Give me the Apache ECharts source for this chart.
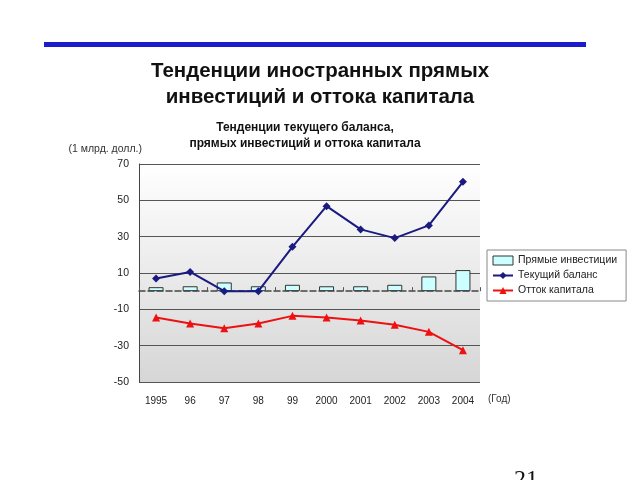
<!DOCTYPE html>
<html><head><meta charset="utf-8">
<script src="https://cdn.jsdelivr.net/npm/echarts@6/dist/echarts.min.js"></script>
<style>html,body{margin:0;padding:0;background:#fff}#c{width:640px;height:480px}</style>
</head><body><div id="c"></div>
<script>
const categories = ['1995','96','97','98','99','2000','2001','2002','2003','2004'];
const fdi = [2.2, 2.7, 4.8, 2.7, 3.5, 2.7, 2.7, 3.5, 8.1, 11.6];
const currentBalance = [7.0, 10.6, 0.0, 0.0, 24.4, 46.8, 34.0, 29.2, 36.2, 60.2];
const capitalOutflow = [-14.5, -17.8, -20.4, -17.8, -13.6, -14.5, -16.1, -18.5, -22.4, -32.5];
const seriesNames = ['Прямые инвестиции', 'Текущий баланс', 'Отток капитала'];

const chart = echarts.init(document.getElementById('c'), null, {renderer:'canvas'});
const font = 'Arial, "Liberation Sans", sans-serif';
chart.setOption({
  animation:false,
  backgroundColor:'#fff',
  textStyle:{fontFamily:font},
  title:[
    {text:'Тенденции иностранных прямых\nинвестиций и оттока капитала', left:'center', top:53,
     textStyle:{fontSize:20.5, fontWeight:'bold', color:'#111', lineHeight:26, fontFamily:font}},
    {text:'Тенденции текущего баланса,\nпрямых инвестиций и оттока капитала', left:300, textAlign:'center', top:115,
     textStyle:{fontSize:12, fontWeight:'bold', color:'#111', lineHeight:16, fontFamily:font}}
  ],
  graphic:[
    {type:'rect', shape:{x:44, y:42, width:542, height:5}, style:{fill:'#1c1ccc'}},
    {type:'text', x:142, y:149, style:{text:'(1 млрд. долл.)', fontSize:10.5, fill:'#333', fontFamily:font, align:'right', verticalAlign:'middle'}},
    {type:'text', x:488, y:399, style:{text:'(Год)', fontSize:10, fill:'#333', fontFamily:font, verticalAlign:'middle'}},
    {type:'text', x:514, y:468, style:{text:'21', fontSize:24, fill:'#111', fontFamily:'"Liberation Serif", serif'}}
  ],
  legend:{
    orient:'vertical', left:487, top:250,
    padding:[5,9,5,5], itemGap:4, itemWidth:20, itemHeight:9,
    borderColor:'#888', borderWidth:1,
    textStyle:{fontSize:10.5, color:'#222', fontFamily:font},
    data:[
      {name:seriesNames[0], icon:'rect', itemStyle:{color:'#ccffff', borderColor:'#333', borderWidth:1}},
      {name:seriesNames[1]},
      {name:seriesNames[2]}
    ]
  },
  grid:{left:139, right:160, top:164, bottom:98, show:true,
    borderWidth:0,
    backgroundColor:{type:'linear', x:0, y:0, x2:0, y2:1,
      colorStops:[{offset:0,color:'#ffffff'},{offset:1,color:'#d6d6d6'}]}},
  xAxis:[
    {type:'category', data:categories, position:'bottom',
     axisLine:{show:false}, axisTick:{show:false},
     axisLabel:{fontSize:10, color:'#222', margin:14}},
    {type:'category', data:categories, position:'bottom', gridIndex:0,
     axisLine:{onZero:true, onZeroAxisIndex:0, lineStyle:{color:'#444', width:1.5, type:'dashed'}},
     axisTick:{show:true, inside:true, length:4, lineStyle:{color:'#555'}},
     axisLabel:{show:false}}
  ],
  yAxis:{type:'value', min:-50, max:70, interval:20,
    axisLine:{show:true, lineStyle:{color:'#444'}}, axisTick:{show:false},
    axisLabel:{fontSize:10.5, color:'#222', margin:10},
    splitLine:{lineStyle:{color:'#555', width:1}}},
  series:[
    {name:seriesNames[0], type:'bar', data:fdi, barWidth:'44%', xAxisIndex:0,
     itemStyle:{color:'#ccffff', borderColor:'#333', borderWidth:1}},
    {name:seriesNames[1], type:'line', data:currentBalance, xAxisIndex:0,
     symbol:'diamond', symbolSize:8, lineStyle:{color:'#1a1a80', width:2},
     itemStyle:{color:'#1a1a80'}},
    {name:seriesNames[2], type:'line', data:capitalOutflow, xAxisIndex:0,
     symbol:'triangle', symbolSize:8, lineStyle:{color:'#ee1111', width:2},
     itemStyle:{color:'#ee1111'}}
  ]
});
</script></body></html>
